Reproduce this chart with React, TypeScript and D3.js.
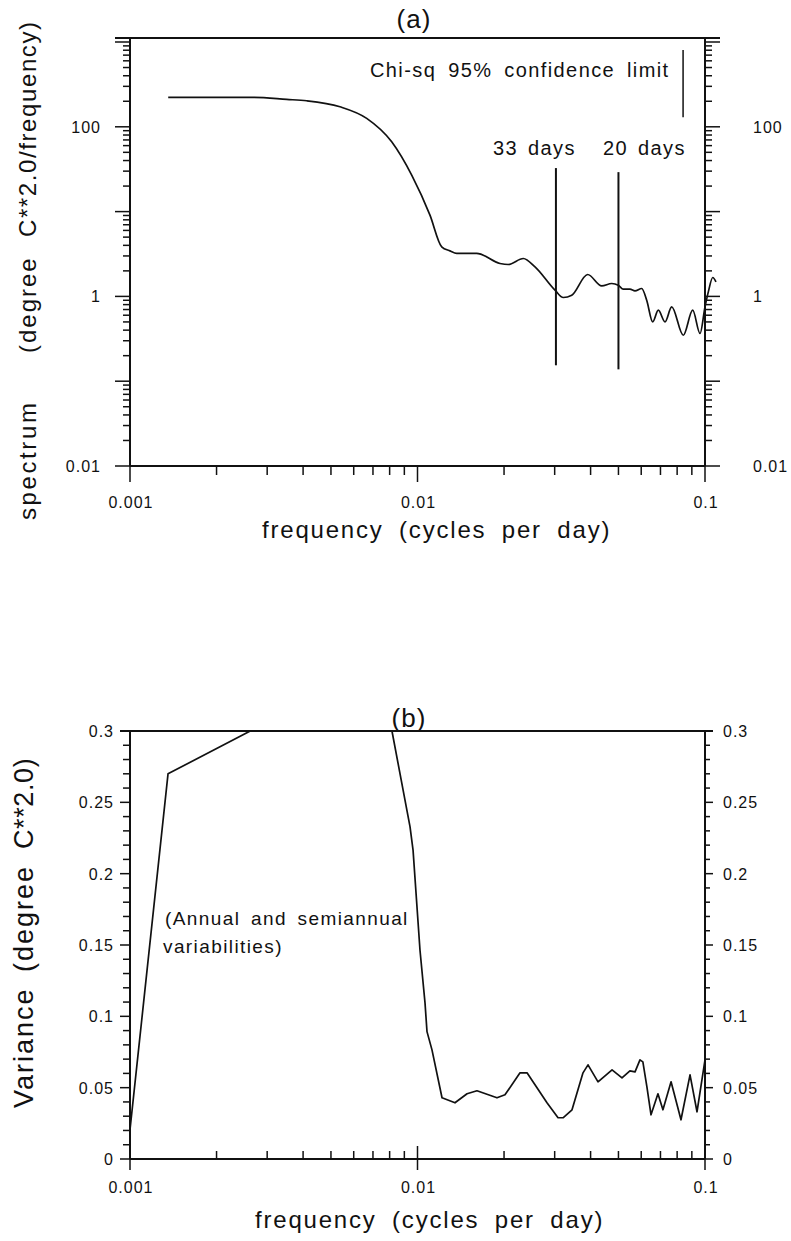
import React from 'react';
import * as d3 from 'd3';

// (a) spectrum
const specFreq = [0.001358, 0.002685, 0.003508, 0.004117, 0.005375, 0.006658, 0.008133, 0.009546, 0.01105, 0.01214, 0.01297, 0.01369, 0.01607, 0.01936, 0.0207, 0.02334, 0.02563, 0.03008, 0.03215, 0.03439, 0.03908, 0.04373, 0.04738, 0.04993, 0.05197, 0.05483, 0.05708, 0.06023, 0.06269, 0.06578, 0.0688, 0.07259, 0.07659, 0.08404, 0.09063, 0.0961, 0.1, 0.1027, 0.1064, 0.1092];
const specValue = [222, 222, 210.5, 202.7, 172.2, 125.7, 66.5, 26.9, 9.08, 3.84, 3.44, 3.21, 3.21, 2.445, 2.379, 2.8, 2.229, 1.184, 0.97, 1.033, 1.813, 1.33, 1.42, 1.356, 1.216, 1.216, 1.161, 1.239, 0.902, 0.5, 0.688, 0.5, 0.752, 0.348, 0.688, 0.365, 0.752, 1.13, 1.671, 1.483];

// (b) variance per frequency band
const varFreq = [0.001, 0.001356, 0.00262, 0.00815, 0.00942, 0.00965, 0.0102, 0.01062, 0.01079, 0.01123, 0.01217, 0.0135, 0.01487, 0.0161, 0.0189, 0.02015, 0.02273, 0.02404, 0.02522, 0.02821, 0.03082, 0.03208, 0.03447, 0.03764, 0.03918, 0.04245, 0.0475, 0.05144, 0.0548, 0.0571, 0.0594, 0.0608, 0.0628, 0.0649, 0.0686, 0.0714, 0.0762, 0.0825, 0.0887, 0.0938, 0.1];
const varValue = [0.0205, 0.27, 0.3, 0.3, 0.2328, 0.2165, 0.1465, 0.1094, 0.0893, 0.0765, 0.0429, 0.0394, 0.0457, 0.0478, 0.0429, 0.045, 0.0604, 0.0604, 0.0541, 0.0394, 0.0289, 0.0289, 0.0345, 0.0604, 0.066, 0.0541, 0.0625, 0.0569, 0.0618, 0.0611, 0.0695, 0.0681, 0.0506, 0.031, 0.0457, 0.0345, 0.0541, 0.0275, 0.059, 0.0331, 0.0695];

// period markers (days) and the vertical extent of their lines
const dayPeriods = [33, 20];
const dayLineTop = [32.6, 29.2];
const dayLineBottom = [0.154, 0.138];

// chi-square 95% bar
const chiFreq = 0.0839;
const chiRange = [130, 803];

// tick labels
const freqLabels = [0.001, 0.01, 0.1];
const specLabels = [0.01, 1, 100];
const varLabels = [0, 0.05, 0.1, 0.15, 0.2, 0.25, 0.3];

const FONT = '"Liberation Sans", Arial, Helvetica, sans-serif';
const isDecade = (v: number) => Math.abs(Math.log10(v) - Math.round(Math.log10(v))) < 1e-6;
const fmt = (v: number) => String(+v.toFixed(3));

const App = () => {
    const xA = d3.scaleLog().domain([0.001, 0.1]).range([130, 705]);
    const yA = d3.scaleLog().domain([0.01, 1000]).range([466, 42]);
    const xB = d3.scaleLog().domain([0.001, 0.1]).range([130, 705]);
    const yB = d3.scaleLinear().domain([0, 0.3]).range([1159, 731]);

    // smooth spectrum, straight segments for the variance plot
    const specLine = d3.line<number>()
        .x((d, i) => xA(specFreq[i]))
        .y(d => yA(d))
        .curve(d3.curveMonotoneX);
    const varLine = d3.line<number>()
        .x((d, i) => xB(varFreq[i]))
        .y(d => yB(d));

    const varTicks = d3.range(0, 31).map(i => i / 100);
    const tickStyle = { stroke: '#111', strokeWidth: 1.5 };
    const axisStyle = { stroke: '#111', strokeWidth: 2 };
    const labelStyle = { fontFamily: FONT, fontSize: 16, letterSpacing: 1, fill: '#111' };
    const titleStyle = { fontFamily: FONT, fontSize: 24, letterSpacing: 1.8, wordSpacing: 7, fill: '#111' };

    return (
        <svg width={791} height={1241} style={{ position: 'absolute', left: 0, top: 0, background: '#fff' }}>
            {/* ---------- panel (a) ---------- */}
            <text x={414} y={28} textAnchor="middle" style={{ ...titleStyle, fontSize: 26, letterSpacing: 1 }}>(a)</text>
            <line x1={115} x2={720} y1={38} y2={38} style={axisStyle} />
            <line x1={130} x2={130} y1={38} y2={466} style={axisStyle} />
            <line x1={705} x2={705} y1={38} y2={466} style={axisStyle} />
            <line x1={130} x2={705} y1={466} y2={466} style={axisStyle} />

            {yA.ticks().map((v, i) => {
                const len = isDecade(v) ? 15 : 7;
                return (
                    <g key={'ya' + i}>
                        <line x1={130 - len} x2={130} y1={yA(v)} y2={yA(v)} style={tickStyle} />
                        <line x1={705} x2={705 + len} y1={yA(v)} y2={yA(v)} style={tickStyle} />
                    </g>
                );
            })}
            {xA.ticks().map((v, i) => (
                <line key={'xa' + i} x1={xA(v)} x2={xA(v)} y1={466} y2={466 + (isDecade(v) ? 16 : 9)} style={tickStyle} />
            ))}
            {specLabels.map(v => (
                <g key={'sl' + v}>
                    <text x={101} y={yA(v) + 6} textAnchor="end" style={labelStyle}>{fmt(v)}</text>
                    <text x={753} y={yA(v) + 6} style={labelStyle}>{fmt(v)}</text>
                </g>
            ))}
            {freqLabels.map(v => (
                <text key={'fa' + v} x={xA(v) + 1} y={508} textAnchor="middle" style={labelStyle}>{fmt(v)}</text>
            ))}

            <path d={specLine(specValue) || ''} fill="none" stroke="#111" strokeWidth={1.7} />

            {dayPeriods.map((p, i) => (
                <line key={'day' + p} x1={xA(1 / p)} x2={xA(1 / p)} y1={yA(dayLineTop[i])} y2={yA(dayLineBottom[i])} style={axisStyle} />
            ))}
            <line x1={xA(chiFreq)} x2={xA(chiFreq)} y1={yA(chiRange[0])} y2={yA(chiRange[1])} stroke="#111" strokeWidth={1.5} />

            <text x={493} y={155} style={{ ...titleStyle, fontSize: 20, letterSpacing: 1.4, wordSpacing: 3 }}>33 days</text>
            <text x={603} y={155} style={{ ...titleStyle, fontSize: 20, letterSpacing: 1.4, wordSpacing: 3 }}>20 days</text>
            <text x={370} y={77} style={{ ...titleStyle, fontSize: 20, letterSpacing: 1.4, wordSpacing: 5 }}>Chi-sq 95% confidence limit</text>

            <text x={262} y={538} style={titleStyle}>frequency (cycles per day)</text>
            <g transform="translate(36,0) rotate(-90)">
                <text x={-520} y={0} style={{ ...titleStyle, letterSpacing: 2.6 }}>spectrum</text>
                <text x={-353} y={0} style={{ ...titleStyle, letterSpacing: 2 }}>(degree</text>
                <text x={-237} y={0} style={{ ...titleStyle, letterSpacing: 1.6 }}>C**2.0/frequency)</text>
            </g>

            {/* ---------- panel (b) ---------- */}
            <text x={409} y={727} textAnchor="middle" style={{ ...titleStyle, fontSize: 26, letterSpacing: 1 }}>(b)</text>
            <line x1={120} x2={713} y1={731} y2={731} style={axisStyle} />
            <line x1={130} x2={130} y1={731} y2={1159} style={axisStyle} />
            <line x1={705} x2={705} y1={731} y2={1159} style={axisStyle} />
            <line x1={130} x2={705} y1={1159} y2={1159} style={axisStyle} />

            {varTicks.map((v, i) => {
                const major = i % 5 === 0;
                return (
                    <g key={'yb' + i}>
                        <line x1={130 - (major ? 10 : 7)} x2={130} y1={yB(v)} y2={yB(v)} style={tickStyle} />
                        <line x1={705} x2={705 + (major ? 8 : 5)} y1={yB(v)} y2={yB(v)} style={tickStyle} />
                    </g>
                );
            })}
            {xB.ticks().map((v, i) => {
                const major = isDecade(v);
                const inner = major && v > 0.001 && v < 0.1;
                return (
                    <line key={'xb' + i} x1={xB(v)} x2={xB(v)}
                        y1={major ? (inner ? 1146 : 1159) : 1151}
                        y2={major ? 1170 : 1159} style={tickStyle} />
                );
            })}
            {varLabels.map(v => (
                <g key={'vl' + v}>
                    <text x={114} y={yB(v) + 6} textAnchor="end" style={labelStyle}>{fmt(v)}</text>
                    <text x={723} y={yB(v) + 6} style={labelStyle}>{fmt(v)}</text>
                </g>
            ))}
            {freqLabels.map(v => (
                <text key={'fb' + v} x={xB(v) + 1} y={1193} textAnchor="middle" style={labelStyle}>{fmt(v)}</text>
            ))}

            <path d={varLine(varValue) || ''} fill="none" stroke="#111" strokeWidth={1.7} strokeLinejoin="round" />

            <text x={165} y={925} style={{ ...titleStyle, fontSize: 19, letterSpacing: 1.4, wordSpacing: 4 }}>(Annual and semiannual</text>
            <text x={163} y={953} style={{ ...titleStyle, fontSize: 19, letterSpacing: 1.4, wordSpacing: 4 }}>variabilities)</text>

            <text x={255} y={1228} style={titleStyle}>frequency (cycles per day)</text>
            <g transform="translate(33,0) rotate(-90)">
                <text x={-1108} y={0} style={{ ...titleStyle, fontSize: 27, letterSpacing: 2 }}>Variance</text>
                <text x={-972} y={0} style={{ ...titleStyle, fontSize: 27, letterSpacing: 2 }}>(degree</text>
                <text x={-849} y={0} style={{ ...titleStyle, fontSize: 27, letterSpacing: 0.6 }}>C**2.0)</text>
            </g>
        </svg>
    );
};

export default App;
